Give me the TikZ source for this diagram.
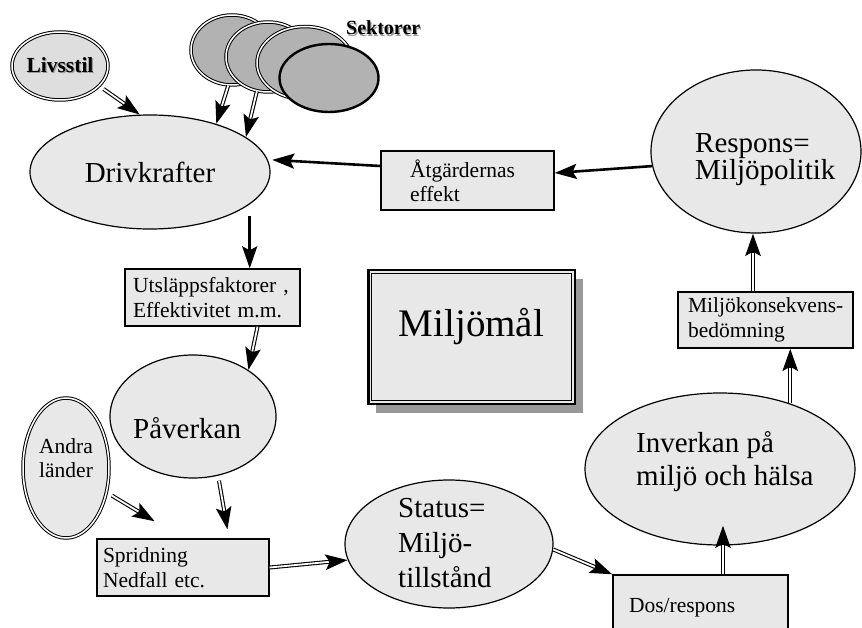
\documentclass[tikz,border=0pt]{standalone}
\usepackage{fontspec}
\setmainfont{Liberation Serif}
\usetikzlibrary{shapes.geometric,arrows.meta,calc,shadows}
\definecolor{lg}{gray}{0.91}
\definecolor{livc}{gray}{0.87}
\definecolor{sekc}{gray}{0.70}
\definecolor{shd}{gray}{0.60}
\newcommand\fsm{\fontsize{21.5}{25}\selectfont}
\newcommand\fmd{\fontsize{29}{33}\selectfont}
\newcommand\fbg{\fontsize{39}{45}\selectfont}
\newcommand\mlines[2]{\vtop{\baselineskip=#1\lineskiplimit=-100pt\relax\halign{##\hfil\cr#2\crcr}}}
\newcommand\shtxt[1]{\makebox[0pt][l]{\kern1.2pt\raisebox{-1.2pt}{\textcolor{black!40}{#1}}}#1}
\begin{document}
\begin{tikzpicture}[x=1pt,y=-1pt,
  ell/.style={ellipse, draw, line width=1.2pt, fill=lg, inner sep=0pt},
  dell/.style={ellipse, draw, line width=1pt, double=white, double distance=1.5pt, inner sep=0pt},
  sek/.style={dell, fill=sekc},
  boxn/.style={rectangle, draw, line width=1.3pt, fill=lg, inner ysep=0pt, align=left, font=\fsm},
  txt/.style={anchor=base west, inner sep=0pt},
  dbl/.style n args={3}{line width=4pt, shorten <=#1, shorten >=#2,
      -{Stealth[length=22pt,width=15pt,inset=4pt]},
      postaction={draw=white, line width=1.8pt, arrows=-, shorten <=#1, shorten >=#3}},
  thk/.style={line width=2.6pt, -{Stealth[length=22pt,width=15pt,inset=4pt]}}]
\useasboundingbox (0,0) rectangle (862,628);

% Livsstil and Sektorer
\node[dell, fill=livc, minimum width=96pt, minimum height=68pt, font=\fsm\bfseries] (liv) at (60,66) {\shtxt{Livsstil}};
\node[sek, minimum width=82pt, minimum height=70pt] (sek1) at (232,50) {};
\node[sek, minimum width=84pt, minimum height=70pt] (sek2) at (268,57) {};
\node[sek, minimum width=96pt, minimum height=73pt] (sek3) at (305,63) {};
\node[ellipse, draw, fill=sekc, line width=2.4pt, inner sep=0pt, minimum width=99pt, minimum height=68pt] (sek4) at (329,78) {};
\node[txt, font=\fontsize{20}{24}\selectfont\bfseries] (sektxt) at (346,35) {\shtxt{Sektorer}};

% Drivkrafter
\node[ell, minimum width=240pt, minimum height=114pt, font=\fmd] (driv) at (150,172) {Drivkrafter};

% Atgardernas effekt
\node[boxn, text width=115pt, inner xsep=29pt, minimum height=59pt] (atg) at (467.5,180.5) {\mlines{24pt}{Åtgärdernas\cr effekt}};

% Respons
\node[ell, minimum width=210pt, minimum height=163pt] (resp) at (756,151.5) {};
\node[txt, font=\fmd] (respT) at (695,152.7) {\mlines{26.6pt}{Respons=\cr Miljöpolitik}};

% Utslappsfaktorer
\node[boxn, text width=159pt, inner xsep=8pt, minimum height=57pt] (utsl) at (212.5,297.5) {\mlines{25.3pt}{Utsläppsfaktorer ,\cr Effektivitet m.m.}};

% Miljomal
\node[rectangle, draw, line width=2.5pt, fill=lg, minimum width=206.5pt, minimum height=133.5pt,
      drop shadow={shadow xshift=8pt, shadow yshift=-9pt, fill=shd, opacity=1},
      font=\fbg, text height=26.6pt, text depth=28.5pt, inner sep=0pt] (mm) at (471.5,337) {Miljömål};
\draw[line width=0.9pt] ([shift={(4.5,4.5)}]mm.north west) rectangle ([shift={(-4.5,-4.5)}]mm.south east);

% Miljokonsekvens
\node[boxn, text width=155pt, inner xsep=10pt, minimum height=56pt] (mkb) at (765.5,320) {\mlines{25pt}{Miljökonsekvens-\cr bedömning}};

% Paverkan
\node[ell, minimum width=166pt, minimum height=123pt] (pav) at (193,416.5) {};
\node[txt, font=\fmd] (pavT) at (133,438) {Påverkan};

% Andra lander
\node[dell, fill=lg, minimum width=86pt, minimum height=140pt] (andra) at (66,468) {};
\node[txt, font=\fsm] (andraT) at (39,453) {\mlines{24pt}{Andra\cr länder}};

% Spridning
\node[boxn, text width=160pt, inner xsep=6pt, minimum height=57pt] (sprid) at (183,567.5) {\mlines{25pt}{Spridning\cr Nedfall etc.}};

% Status
\node[ell, minimum width=208pt, minimum height=128pt] (status) at (449,544) {};
\node[txt, font=\fmd] (statusT) at (398,517.7) {\mlines{35pt}{Status=\cr Miljö-\cr tillstånd}};

% Inverkan
\node[ell, minimum width=270pt, minimum height=152pt] (inv) at (720,469) {};
\node[txt, font=\fmd] (invT) at (636,452) {\mlines{33pt}{Inverkan på\cr miljö och hälsa}};

% Dos/respons
\node[boxn, text width=143pt, inner xsep=16pt, minimum height=66pt] (dos) at (700.5,608) {Dos/respons};

% Connectors
\draw[dbl={5pt}{0pt}{19pt}] (liv.-27) -- (driv.100);
\draw[dbl={0pt}{0pt}{19pt}] (sek1.-96) -- (driv.36);
\draw[dbl={0pt}{0pt}{19pt}] (sek2.-108) -- (driv.20);
\draw[thk, shorten <=12pt] (driv.-18) -- (driv.-18 |- utsl.north);
\draw[dbl={0pt}{0pt}{19pt}] ([xshift=45pt]utsl.south) -- (pav.40);
\draw[dbl={6pt}{33pt}{52pt}] (andra.-31) -- (sprid.north);
\draw[dbl={5pt}{9pt}{28pt}] (pav.-67) -- ([xshift=46pt]sprid.north);
\draw[dbl={0pt}{0pt}{19pt}] (sprid.east) -- (status.189);
\draw[dbl={0pt}{0pt}{19pt}] (status.-3) -- (dos.north west);
\draw[dbl={0pt}{0pt}{19pt}] ([xshift=22.5pt]dos.north) -- ($(inv.south)+(3,-20)$);
\draw[dbl={0pt}{0pt}{19pt}] (inv.43) -- (inv.43 |- mkb.south);
\draw[dbl={0pt}{0pt}{19pt}] ([xshift=-12.5pt]mkb.north) -- ([xshift=-3pt]resp.south);
\draw[thk] (resp.188) -- ([yshift=7.5pt]atg.east);
\draw[thk, shorten >=4.5pt] ([yshift=14.5pt]atg.west) -- (driv.6);
\end{tikzpicture}
\end{document}
